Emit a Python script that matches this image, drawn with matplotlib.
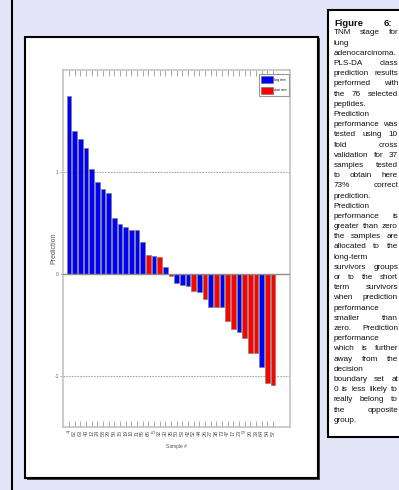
import matplotlib
matplotlib.use("Agg")
import matplotlib.pyplot as plt
from matplotlib.patches import Rectangle, Patch
import numpy as np

plt.rcParams["font.family"] = ["Liberation Sans", "DejaVu Sans"]

# values
samples = ["4", "62", "63", "43", "12", "24", "58", "29", "59", "15", "19", "10",
           "11", "55", "65", "5", "32", "30", "35", "50", "53", "42", "52", "44",
           "26", "27", "38", "73", "47", "17", "23", "9", "20", "39", "64", "54", "57"]
prediction = [1.75, 1.40, 1.32, 1.24, 1.03, 0.90, 0.83, 0.79, 0.55, 0.49,
              0.46, 0.43, 0.43, 0.31, 0.19, 0.18, 0.17, 0.065, -0.02, -0.09,
              -0.11, -0.12, -0.165, -0.18, -0.245, -0.32, -0.325, -0.325, -0.46, -0.54,
              -0.57, -0.63, -0.775, -0.775, -0.915, -1.07, -1.09]
group = ["L"] * 14 + ["S", "L", "S", "L", "S", "L", "L", "L", "S", "L", "S", "L",
                      "S", "L", "S", "S", "L", "S", "S", "S", "L", "S", "S"]
legend_labels = ["long term", "short term"]

caption_head = ["Figure", "6:"]
caption = [
    "TNM stage for", "lung", "adenocarcinoma.", "PLS-DA class",
    "prediction results", "performed with", "the 76 selected", "peptides.",
    "Prediction", "performance was", "tested using 10", "fold cross",
    "validation for 37", "samples tested", "to obtain here", "73% correct",
    "prediction.", "Prediction", "performance is", "greater than zero",
    "the samples are", "allocated to the", "long-term", "survivors groups",
    "or to the short", "term survivors", "when prediction", "performance",
    "smaller than", "zero. Prediction", "performance", "which is further",
    "away from the", "decision", "boundary set at", "0 is less likely to",
    "really belong to", "the opposite", "group.",
]

W, H = 399, 490
BG = "#e5e5f9"


def fx(px):
    return px / W


def fy(py):
    return 1 - py / H


fig = plt.figure(figsize=(W / 100, H / 100), dpi=100, facecolor=BG)

# bits of the poster around the figure
fig.add_artist(plt.Line2D([fx(12), fx(12)], [0, 1], color="black", lw=1.5))
fig.text(fx(46), fy(-1.8), "Long-typ gp  yq", color="#8cb8f0", fontsize=8, va="baseline")
fig.text(fx(224), fy(-1.8), "g  Short-py  gy", color="#f0a0b4", fontsize=8, va="baseline")

# white box holding the chart
fig.add_artist(Rectangle((fx(26.5), fy(479.5)), 293 / W, 441 / H, transform=fig.transFigure,
                         fc="#444", ec="none", zorder=0.5))
fig.add_artist(Rectangle((fx(25), fy(478)), 293 / W, 441 / H, transform=fig.transFigure,
                         fc="white", ec="black", lw=1.5, zorder=1))

# caption box
fig.add_artist(Rectangle((fx(328), fy(437)), 100 / W, 427 / H, transform=fig.transFigure,
                         fc="white", ec="black", lw=1.5, zorder=1))

renderer = fig.canvas.get_renderer()


def caption_line(words, base, x0, x1, **kw):
    objs = [fig.text(0, fy(base), w, va="baseline", ha="left", zorder=3,
                     color="#111111", **kw) for w in words]
    if len(objs) == 1:
        objs[0].set_x(fx(x0))
        return
    widths = [t.get_window_extent(renderer).width for t in objs]
    gap = (x1 - x0 - sum(widths)) / (len(objs) - 1)
    x = x0
    for t, w in zip(objs, widths):
        t.set_x(fx(x))
        x += w + gap


caption_line(caption_head, 26, 334, 392, fontsize=6.8, fontweight="bold")
for i, line in enumerate(caption):
    caption_line(line.split(), 34.5 + 10.19 * i, 333.5, 398, fontsize=5.9)

# the bar chart
ax = fig.add_axes([fx(63), fy(427), (290 - 63) / W, (427 - 70) / H], zorder=2)
x = np.arange(len(samples))
colors = ["#0000ff" if g == "L" else "#ff0000" for g in group]
ax.bar(x, prediction, width=0.86, color=colors, edgecolor="#808080", linewidth=0.5, zorder=3)
ax.axhline(0, color="#8c8c8c", lw=1.0, zorder=4)
for v in (1, -1):
    ax.axhline(v, color="#a8a8a8", lw=0.8, ls=(0, (1.5, 1)), zorder=1)

ax.set_xlim(-1.05, 39)
ax.set_ylim(-1.5, 2)
ax.set_xticks(x)
ax.set_xticklabels(samples, rotation=90, fontsize=4, color="#555555")
ax.tick_params(axis="x", direction="in", length=4, width=0.6, color="#999999", top=True, pad=2)
ax.set_yticks([-1, 0, 1])
ax.set_yticklabels(["-1", "0", "1"], fontsize=3.5, color="#666666")
ax.tick_params(axis="y", direction="out", length=2, width=0.6, color="#999999", pad=1)
for s in ax.spines.values():
    s.set_color("#c4c4c4")
    s.set_linewidth(1.2)

ax.set_ylabel("Prediction", fontsize=5, color="#555555")
ax.yaxis.set_label_coords(-0.026, 0.5)
ax.set_xlabel("Sample #", fontsize=3.5, color="#555555")
ax.xaxis.set_label_coords(0.5, -0.048)

handles = [Patch(fc="#0000ff", ec="#666666", lw=0.4), Patch(fc="#ff0000", ec="#666666", lw=0.4)]
leg = ax.legend(handles, legend_labels, loc="upper right",
                bbox_to_anchor=((289 - 63) / 227, (427 - 74) / 357), borderaxespad=0,
                fontsize=2, handlelength=4.3, handleheight=3.5, borderpad=0.8,
                labelspacing=1.4, handletextpad=0.4, fancybox=False,
                edgecolor="#999999", framealpha=1)
leg.get_frame().set_linewidth(0.8)

fig.savefig("out.png", dpi=100, facecolor=BG)
